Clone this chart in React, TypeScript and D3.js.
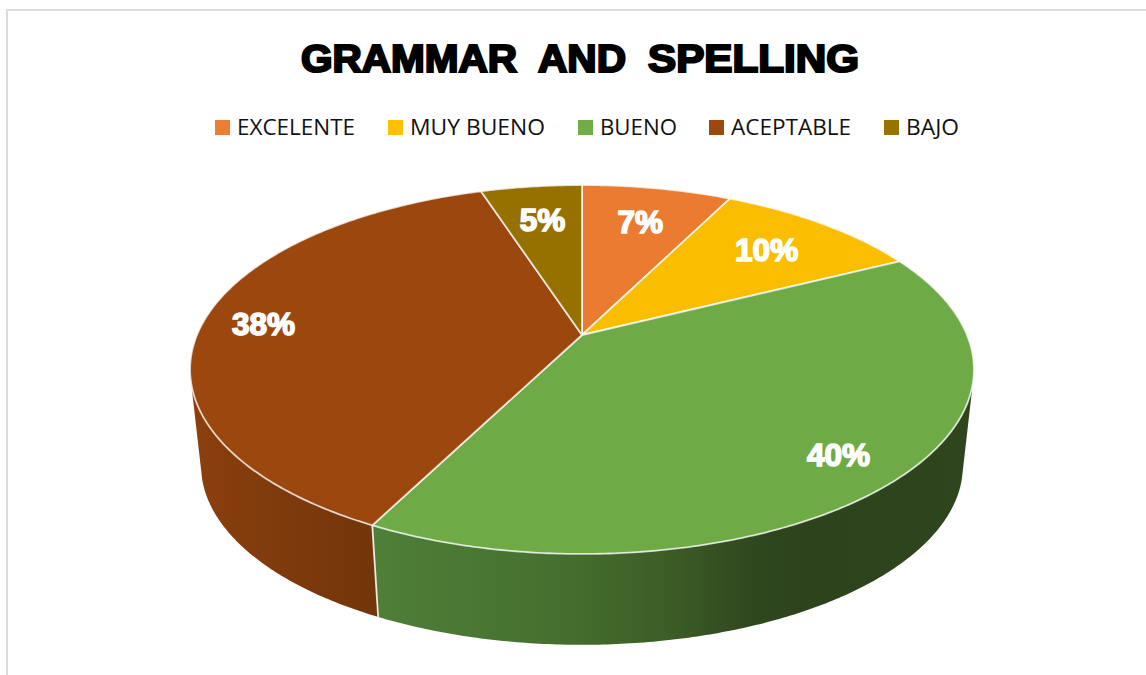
import React from "react";
import * as d3 from "d3";

const titleWords = ["GRAMMAR", "AND", "SPELLING"];
const categories = ["EXCELENTE", "MUY BUENO", "BUENO", "ACEPTABLE", "BAJO"];
const shares = [7.4, 10.2, 39.9, 37.5, 5.0];
const colors = ["#ED7D31", "#FFC000", "#70AD47", "#9E480E", "#997300"];

const WIDTH = 1146;
const HEIGHT = 675;

// Perspective disc: apex of the pie, radius and vertical foreshortening
const APEX_X = 582;
const APEX_Y = 335;
const RADIUS = 385;
const FORESHORTEN = 178;
const PERSPECTIVE = 0.187;
// Lower disc of the extruded side
const BASE_SCALE = 0.972;
const BASE_DROP = 97;
// Angular range of the side wall that faces the viewer
const WALL_START = (105 * Math.PI) / 180;
const WALL_END = (255 * Math.PI) / 180;

const xScale = d3.scaleLinear().domain([0, 1]).range([0, RADIUS]);
const yScale = d3.scaleLinear().domain([0, 1]).range([0, -FORESHORTEN]);

type Pt = [number, number];

function project(angle: number, r = 1): Pt {
  const u = r * Math.sin(angle);
  const v = r * Math.cos(angle);
  const w = 1 + PERSPECTIVE * v;
  return [APEX_X + xScale(u / w), APEX_Y + yScale(v / w)];
}

function projectBase(angle: number): Pt {
  const [x, y] = project(angle);
  return [
    APEX_X + (x - APEX_X) * BASE_SCALE,
    APEX_Y + BASE_DROP + (y - APEX_Y) * BASE_SCALE,
  ];
}

function sweep(a0: number, a1: number): number[] {
  const n = Math.max(2, Math.ceil(Math.abs(a1 - a0) / 0.01));
  return d3.range(n + 1).map((i) => a0 + ((a1 - a0) * i) / n);
}

const pieLayout = d3.pie<number>().sort(null).value((d) => d);
const arcs = pieLayout(shares);
const linePath = d3.line<Pt>();

function topFace(a0: number, a1: number): string {
  return linePath([[APEX_X, APEX_Y], ...sweep(a0, a1).map((a) => project(a))]) + "Z";
}

function wall(a0: number, a1: number): string {
  const angles = sweep(a0, a1);
  return (
    linePath([
      ...angles.map((a) => project(a)),
      ...angles.slice().reverse().map((a) => projectBase(a)),
    ]) + "Z"
  );
}

// Horizontal shading of the side wall, one ramp per visible slice
const wallShades: Record<number, { x1: number; x2: number; stops: [number, string][] }> = {
  2: {
    x1: 375,
    x2: 970,
    stops: [
      [0, "#4f7f38"],
      [0.3, "#46702f"],
      [0.5, "#3c5c26"],
      [0.62, "#31491f"],
      [0.72, "#2c431c"],
      [1, "#2e451e"],
    ],
  },
  3: {
    x1: 195,
    x2: 378,
    stops: [
      [0, "#8b3f0e"],
      [0.5, "#7e3a0c"],
      [1, "#72350a"],
    ],
  },
};

const titleX = [300, 537, 647];
const titleWidth = [218, 90, 213];
const legendSwatchX = [215, 388, 578, 709, 884];
const legendTextWidth = [118, 135, 77, 120, 53];

export default function App() {
  const percent = d3.format(".0f");
  const visibleWalls = arcs
    .map((d, i) => ({
      i,
      a0: Math.max(d.startAngle, WALL_START),
      a1: Math.min(d.endAngle, WALL_END),
    }))
    .filter((d) => d.a1 > d.a0);

  return (
    <svg
      width={WIDTH}
      height={HEIGHT}
      viewBox={`0 0 ${WIDTH} ${HEIGHT}`}
      style={{ position: "absolute", left: 0, top: 0, display: "block", background: "#fff" }}
    >
      <defs>
        {Object.entries(wallShades).map(([key, shade]) => (
          <linearGradient
            key={key}
            id={`wall-${key}`}
            gradientUnits="userSpaceOnUse"
            x1={shade.x1}
            x2={shade.x2}
            y1={0}
            y2={0}
          >
            {shade.stops.map(([offset, color]) => (
              <stop key={offset} offset={offset} stopColor={color} />
            ))}
          </linearGradient>
        ))}
      </defs>

      {/* Chart frame */}
      <line x1={6} x2={WIDTH} y1={10} y2={10} stroke="#dcdcdc" strokeWidth={2} />
      <line x1={7} x2={7} y1={9} y2={HEIGHT} stroke="#dcdcdc" strokeWidth={2} />

      {titleWords.map((word, i) => (
        <text
          key={word}
          x={titleX[i] + 1}
          y={71.5}
          textLength={titleWidth[i] - 2}
          lengthAdjust="spacingAndGlyphs"
          fontFamily="Liberation Sans"
          fontWeight={700}
          fontSize={39}
          fill="#000"
          stroke="#000"
          strokeWidth={2.2}
        >
          {word}
        </text>
      ))}

      {categories.map((name, i) => (
        <g key={name}>
          <rect x={legendSwatchX[i]} y={120} width={15} height={15} fill={colors[i]} />
          <text
            x={legendSwatchX[i] + 22}
            y={134.5}
            textLength={legendTextWidth[i]}
            lengthAdjust="spacingAndGlyphs"
            fontFamily="Open Sans"
            fontSize={22.5}
            fill="#111"
          >
            {name}
          </text>
        </g>
      ))}

      {/* Side wall of the disc, drawn first so the top face covers its far edge */}
      {visibleWalls.map(({ i, a0, a1 }) => (
        <path key={i} d={wall(a0, a1)} fill={`url(#wall-${i})`} />
      ))}
      {visibleWalls.slice(1).map(({ i, a0 }) => (
        <path
          key={i}
          d={linePath([project(a0), projectBase(a0)]) as string}
          stroke="#fff"
          strokeOpacity={0.85}
          strokeWidth={1.8}
          fill="none"
        />
      ))}

      {/* Top face */}
      {arcs.map((d, i) => (
        <path
          key={categories[i]}
          d={topFace(d.startAngle, d.endAngle)}
          fill={d3.rgb(colors[i]).darker(0.04).formatHex()}
          stroke="#fff"
          strokeOpacity={0.75}
          strokeWidth={1.8}
          strokeLinejoin="round"
        />
      ))}

      {/* Percentage labels: wide slices sit closer to the rim */}
      {arcs.map((d, i) => {
        const mid = (d.startAngle + d.endAngle) / 2;
        const [x, y] = project(mid, d.value > 20 ? 0.84 : 0.745);
        return (
          <text
            key={categories[i]}
            x={x}
            y={y + 11.5}
            textAnchor="middle"
            fontFamily="Liberation Sans"
            fontWeight={700}
            fontSize={31.5}
            fill="#fff"
            stroke="#fff"
            strokeWidth={1.6}
          >
            {percent(d.value)}%
          </text>
        );
      })}
    </svg>
  );
}
